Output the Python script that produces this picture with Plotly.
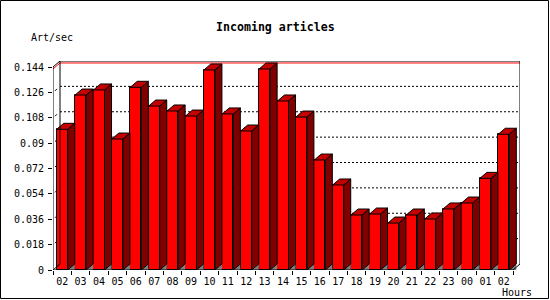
import plotly.graph_objects as go

# ---------------- data ----------------
hours = ["02", "03", "04", "05", "06", "07", "08", "09", "10", "11", "12", "13",
         "14", "15", "16", "17", "18", "19", "20", "21", "22", "23", "00", "01", "02"]
rates = [0.0998, 0.1241, 0.1277, 0.0929, 0.1296, 0.1163, 0.1128, 0.1092, 0.1419,
         0.1107, 0.0986, 0.1426, 0.1199, 0.1085, 0.0780, 0.0603, 0.0390, 0.0397,
         0.0333, 0.0390, 0.0362, 0.0433, 0.0475, 0.0650, 0.0963]
y_ticks = [0, 0.018, 0.036, 0.054, 0.072, 0.09, 0.108, 0.126, 0.144]
y_ticktext = ["0", "0.018", "0.036", "0.054", "0.072", "0.09", "0.108", "0.126", "0.144"]
title = "Incoming articles"
y_title = "Art/sec"
x_title = "Hours"

# ---------------- geometry ----------------
W, H = 550, 300
L, T = 53, 61
CAT_PX = 18.4            # pixels per category
Y_TOP = y_ticks[-1]
Y_PX = 203.0             # pixels for 0 .. Y_TOP on the front face
DX_PX, DY_PX = 7, 6      # 3-D depth
n = len(hours)
plot_w = n * CAT_PX + DX_PX
plot_h = Y_PX + DY_PX
R = W - L - plot_w
B = H - T - plot_h
DX = DX_PX / CAT_PX
DY = DY_PX * Y_TOP / Y_PX
BAR_W = 0.6
x0, x1 = -0.5, n - 0.5
xr_max = x1 + DX
yr_max = Y_TOP + DY

FRONT, SIDE, TOP, FLOOR = "#FF0000", "#800000", "#C40000", "#808080"
MONO = "DejaVu Sans Mono"

def px_x(p):
    return (p - L) / plot_w

def px_y(p):
    return (H - B - p) / plot_h

xs = list(range(n))

fig = go.Figure()

# front faces
fig.add_trace(go.Bar(x=xs, y=rates, width=BAR_W, marker=dict(color=FRONT, line=dict(color="black", width=1)),
                     hoverinfo="skip", showlegend=False))

# floor shadows, sides and tops (data coordinates derived from the values)
fx, fy, sx, sy, tx, ty = [], [], [], [], [], []
for i, v in zip(xs, rates):
    xl, xr = i - BAR_W / 2, i + BAR_W / 2
    fx += [xr, xr + DX, xr + DX, xr, None]
    fy += [0, DY, 0, 0, None]
    sx += [xr, xr + DX, xr + DX, xr, xr, None]
    sy += [0, DY, v + DY, v, 0, None]
    tx += [xl, xl + DX, xr + DX, xr, xl, None]
    ty += [v, v + DY, v + DY, v, v, None]
fig.add_trace(go.Scatter(x=fx, y=fy, mode="none", fill="toself", fillcolor=FLOOR,
                         hoverinfo="skip", showlegend=False, cliponaxis=False))
fig.add_trace(go.Scatter(x=sx, y=sy, mode="lines", fill="toself", fillcolor=SIDE,
                         line=dict(color="black", width=1), hoverinfo="skip", showlegend=False, cliponaxis=False))
fig.add_trace(go.Scatter(x=tx, y=ty, mode="lines", fill="toself", fillcolor=TOP,
                         line=dict(color="black", width=1), hoverinfo="skip", showlegend=False, cliponaxis=False))

# frame lines
vmax = max(rates)
frame_x = [x0, x0, x0 + DX, xr_max, xr_max, x1, x0, None, x0, x0 + DX, x0 + DX]
frame_y = [0, Y_TOP, yr_max, yr_max, DY, 0, 0, None, 0, DY, yr_max]
fig.add_trace(go.Scatter(x=frame_x, y=frame_y, mode="lines", line=dict(color="black", width=1),
                         hoverinfo="skip", showlegend=False, cliponaxis=False))
# wall tick marks
wx, wy = [], []
for t in y_ticks[1:-1]:
    wx += [x0 + 2 / CAT_PX, x0 + 4 / CAT_PX, None]
    wy += [t + 1.5 * DY / DY_PX, t + 3.5 * DY / DY_PX, None]
fig.add_trace(go.Scatter(x=wx, y=wy, mode="lines", line=dict(color="black", width=1),
                         hoverinfo="skip", showlegend=False, cliponaxis=False))

# max line (red) on wall and back panel
fig.add_shape(type="line", xref="x", yref="y", x0=x0, y0=vmax, x1=x0 + DX, y1=vmax + DY,
              line=dict(color="red", width=1), layer="below")
fig.add_shape(type="line", xref="x", yref="y", x0=x0 + DX, y0=vmax + DY, x1=xr_max, y1=vmax + DY,
              line=dict(color="red", width=1), layer="below")

# dotted grid on back panel
for t in y_ticks[1:-1]:
    fig.add_shape(type="line", xref="x", yref="y", x0=x0 + DX, x1=xr_max, y0=t + DY, y1=t + DY,
                  line=dict(color="black", width=1, dash="2px,2px"), layer="below")

# outer border
fig.add_shape(type="rect", xref="paper", yref="paper", x0=px_x(0.5), x1=px_x(548.5), y0=px_y(0.5), y1=px_y(298.5),
              line=dict(color="black", width=1), fillcolor="rgba(0,0,0,0)")

# invisible trace for the tick-only axis
fig.add_trace(go.Scatter(x=[x0], y=[0], xaxis="x2", mode="markers", marker=dict(opacity=0),
                         hoverinfo="skip", showlegend=False))

fig.update_layout(
    width=W, height=H,
    margin=dict(l=L, r=R, t=T, b=B, pad=0),
    paper_bgcolor="white", plot_bgcolor="white",
    bargap=0,
    xaxis=dict(range=[x0, xr_max], tickvals=xs, ticktext=hours, ticks="", showgrid=False,
               zeroline=False, showline=False, ticklabelstandoff=4,
               tickfont=dict(family=MONO, size=10, color="black"), fixedrange=True),
    xaxis2=dict(range=[x0, xr_max], overlaying="x", side="bottom", anchor="y",
                tickvals=[i - 0.5 for i in range(n + 1)], ticks="outside", ticklen=4, tickcolor="black",
                showticklabels=False, showgrid=False, zeroline=False, showline=False, fixedrange=True),
    yaxis=dict(range=[0, yr_max], tickvals=y_ticks, ticktext=y_ticktext, ticks="outside", ticklen=4,
               tickcolor="black", showgrid=False, zeroline=False, showline=False, ticklabelstandoff=2,
               tickfont=dict(family=MONO, size=10, color="black"), fixedrange=True),
    annotations=[
        dict(text="<b>" + title + "</b>", xref="paper", yref="paper", x=px_x(275), y=px_y(27),
             xanchor="center", yanchor="middle", showarrow=False,
             font=dict(family=MONO, size=11.6, color="black")),
        dict(text=y_title, xref="paper", yref="paper", x=px_x(29), y=px_y(37),
             xanchor="left", yanchor="middle", showarrow=False,
             font=dict(family=MONO, size=10, color="black")),
        dict(text=x_title, xref="paper", yref="paper", x=px_x(534), y=px_y(292),
             xanchor="right", yanchor="middle", showarrow=False,
             font=dict(family=MONO, size=10, color="black")),
    ],
)

fig.write_html("out.html")
